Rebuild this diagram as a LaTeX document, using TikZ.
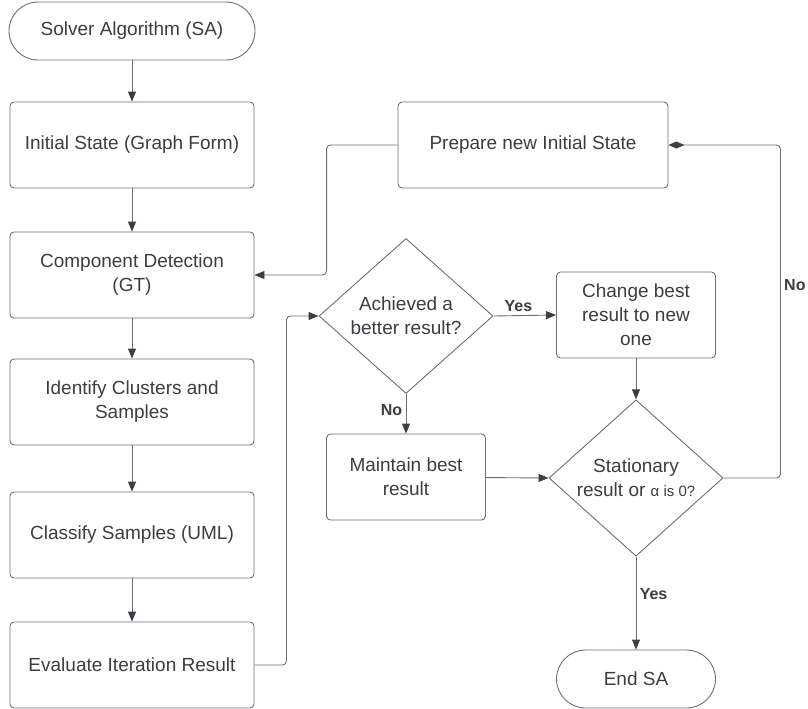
\documentclass[tikz,border=0pt]{standalone}
\usepackage{fontspec}
\setmainfont{Liberation Sans}
\usetikzlibrary{shapes.geometric,arrows.meta}
\definecolor{ln}{HTML}{6B6F76}
\definecolor{tip}{HTML}{3A3E45}
\definecolor{tx}{HTML}{3A3D42}
\begin{document}
\begin{tikzpicture}[x=1pt,y=-1pt,
  every node/.style={text=tx,font=\fontsize{19}{24}\selectfont},
  box/.style={draw=ln,line width=0.9pt,rounded corners=4pt,minimum width=244pt,minimum height=86pt,align=center},
  sbox/.style={draw=ln,line width=0.9pt,rounded corners=4pt,minimum width=159pt,minimum height=86pt,align=center},
  term/.style={draw=ln,line width=0.9pt,rounded corners=29pt,minimum height=58pt,align=center},
  dec/.style={draw=ln,line width=0.9pt,diamond,inner sep=0pt,minimum width=174pt,minimum height=155pt,align=center},
  conn/.style={draw=ln,line width=0.9pt,rounded corners=4pt,-{Triangle[length=10pt,width=8pt,color=tip]}},
  lab/.style={font=\bfseries\fontsize{16}{18}\selectfont}
]
\useasboundingbox (0,0) rectangle (808,709);
\node[term,minimum width=246pt] (start) at (132,31) {Solver Algorithm (SA)};
\node[box] (init) at (132,145) {Initial State (Graph Form)};
\node[box] (comp) at (132,275) {Component Detection\\(GT)};
\node[box] (ident) at (132,402) {Identify Clusters and\\Samples};
\node[box] (class) at (132,535) {Classify Samples (UML)};
\node[box] (eval) at (132,665) {Evaluate Iteration Result};
\node[box,minimum width=270pt] (prep) at (533,145) {Prepare new Initial State};
\node[dec] (d1) at (406,316) {Achieved a\\better result?};
\node[sbox] (chg) at (636,315) {Change best\\result to new\\one};
\node[sbox] (mnt) at (406,477) {Maintain best\\result};
\node[dec] (d2) at (636,478) {Stationary\\result or {\fontsize{15}{18}\selectfont α is 0?}};
\node[term,minimum width=159pt] (end) at (636,679) {End SA};

\draw[conn] (start) -- (init);
\draw[conn] (init) -- (comp);
\draw[conn] (comp) -- (ident);
\draw[conn] (ident) -- (class);
\draw[conn] (class) -- (eval);
\draw[conn] (eval.east) -- ++(32,0) |- (d1.west);
\draw[conn] (prep.west) -- ++(-71,0) |- (comp.east);
\draw[conn] (d1.east) -- node[lab,above,pos=0.4] {Yes} (chg.west);
\draw[conn] (d1.south) -- node[lab,left,pos=0.4] {No} (mnt.north);
\draw[conn] (chg) -- (d2.north);
\draw[conn] (mnt) -- (d2.west);
\draw[conn] (d2.south) -- node[lab,right,pos=0.4] {Yes} (end.north);
\draw[conn,-{Diamond[length=16pt,width=7pt,color=tip]}] (d2.east) -- ++(57,0) |- node[lab,right,pos=0.29] {No} (prep.east);
\end{tikzpicture}
\end{document}
